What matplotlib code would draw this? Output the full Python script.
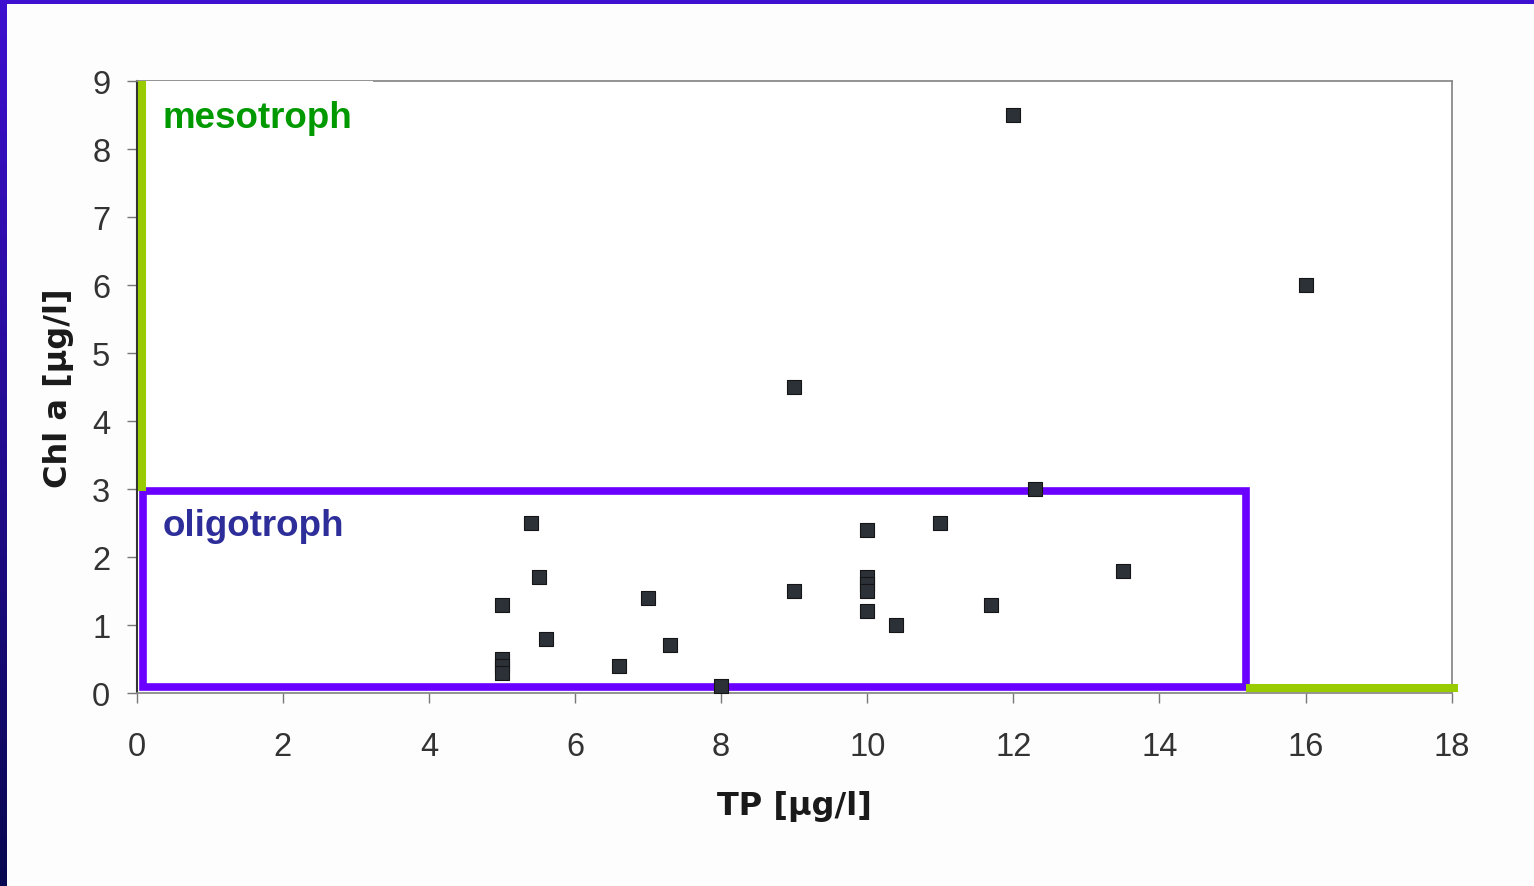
import numpy as np
import matplotlib.pyplot as plt
from matplotlib.patches import Rectangle

# Messwerte: Gesamtphosphor (TP) gegen Chlorophyll a
tp = [12, 16, 9, 12.3, 5.4, 10, 11, 5.5, 13.5, 10, 10, 10, 10, 9, 7, 5,
      11.7, 10.4, 5.6, 7.3, 6.6, 8, 5, 5, 5]
chla = [8.5, 6.0, 4.5, 3.0, 2.5, 2.4, 2.5, 1.7, 1.8, 1.7, 1.6, 1.5, 1.2, 1.5,
        1.4, 1.3, 1.3, 1.0, 0.8, 0.7, 0.4, 0.1, 0.5, 0.4, 0.3]

x_ticks = [0, 2, 4, 6, 8, 10, 12, 14, 16, 18]
y_ticks = [0, 1, 2, 3, 4, 5, 6, 7, 8, 9]

# Grenzen der Trophiebereiche
oligo_x = (0.09, 15.18)
oligo_y = (0.088, 2.97)

W, H = 1534, 887
fig = plt.figure(figsize=(W / 100, H / 100), dpi=100)
fig.patch.set_facecolor('#fdfdfd')

# blauer Folienrahmen (oben + links mit Verlauf)
fig.patches.append(Rectangle((0, 1 - 5 / H), 1, 5 / H, transform=fig.transFigure,
                             facecolor='#3e10d0', edgecolor='none', zorder=0))
ax_bar = fig.add_axes([0, 0, 6 / W, 1])
grad = np.linspace(0, 1, 256).reshape(-1, 1)
top_c = np.array([0x3e, 0x10, 0xd0]) / 255
bot_c = np.array([0x08, 0x08, 0x50]) / 255
img = top_c[None, None, :] * (1 - grad[:, :, None]) + bot_c[None, None, :] * grad[:, :, None]
ax_bar.imshow(img, aspect='auto', extent=[0, 1, 0, 1])
ax_bar.axis('off')

ax = fig.add_axes([136.7 / W, 1 - 694 / H, 1315 / W, 612 / H])
ax.set_facecolor('#ffffff')
ax.set_xlim(0, 18)
ax.set_ylim(0, 9)

ax.scatter(tp, chla, marker='s', s=100, color='#2c3138', edgecolors='#151515',
           linewidths=0.8, zorder=5, clip_on=False)

# Bereichsmarkierungen
ax.add_patch(Rectangle((oligo_x[0], oligo_y[0]), oligo_x[1] - oligo_x[0],
                       oligo_y[1] - oligo_y[0], fill=False, edgecolor='#6a00ff',
                       linewidth=5.5, zorder=4, clip_on=False))
ax.add_patch(Rectangle((0.04, 8.07), 3.19, 0.93, facecolor='white',
                       edgecolor='none', zorder=3, clip_on=False))
ax.plot([0.075, 0.075], [oligo_y[1], 9.0], color='#99cc00', linewidth=5.8,
        solid_capstyle='butt', zorder=4, clip_on=False)
ax.plot([oligo_x[1], 18.08], [0.078, 0.078], color='#99cc00', linewidth=5.8,
        solid_capstyle='butt', zorder=4, clip_on=False)

ax.text(0.35, 8.47, 'mesotroph', color='#009900', fontsize=26.5, fontweight='bold',
        family='Liberation Sans', va='center', ha='left', zorder=6)
ax.text(0.35, 2.47, 'oligotroph', color='#2e2e9a', fontsize=26.5, fontweight='bold',
        family='Liberation Sans', va='center', ha='left', zorder=6)

# Achsen
ax.set_xticks(x_ticks)
ax.set_yticks(y_ticks)
ax.tick_params(axis='both', direction='out', length=7, width=1, color='#777777',
               labelsize=23.5, labelcolor='#333333')
ax.tick_params(axis='x', pad=20)
ax.tick_params(axis='y', pad=12)
for lab in ax.get_xticklabels() + ax.get_yticklabels():
    lab.set_family('Liberation Sans')

ax.spines['left'].set_color('#333333')
ax.spines['left'].set_linewidth(1.5)
for s in ['top', 'right', 'bottom']:
    ax.spines[s].set_color('#8a8a8a')
    ax.spines[s].set_linewidth(1.3)

ax.set_xlabel('TP [µg/l]', fontsize=23, fontweight='bold', color='#1a1a1a',
              family='DejaVu Sans')
ax.set_ylabel('Chl a [µg/l]', fontsize=23, fontweight='bold', color='#1a1a1a',
              family='DejaVu Sans')
ax.xaxis.set_label_coords(0.5, -0.158)
ax.yaxis.set_label_coords(-0.048, 0.5)

fig.savefig('out.png', dpi=100, facecolor=fig.get_facecolor())
